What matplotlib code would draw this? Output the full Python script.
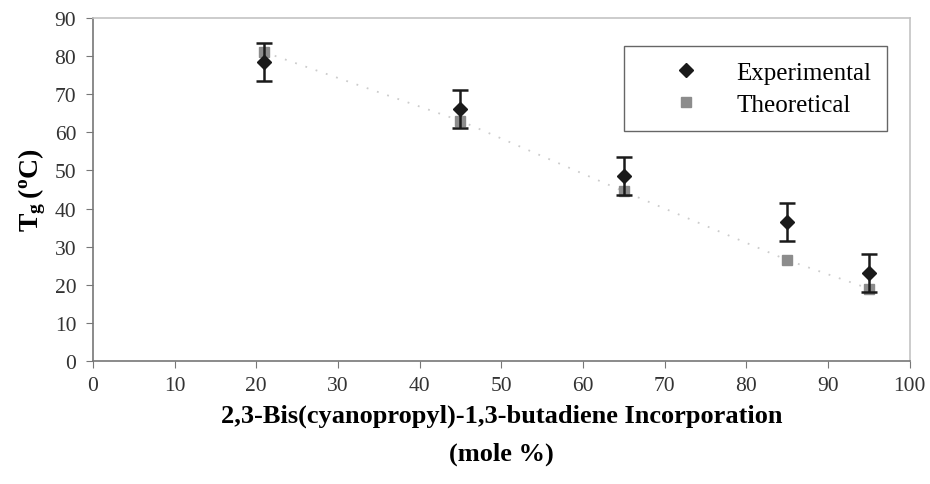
#----Bibliotecas----
import matplotlib
matplotlib.use("Agg")
import matplotlib.pyplot as plt
from matplotlib.lines import Line2D

plt.rcParams['font.family'] = ['Liberation Serif', 'DejaVu Serif']
plt.rcParams['mathtext.fontset'] = 'custom'
plt.rcParams['mathtext.rm'] = 'Liberation Serif'
plt.rcParams['mathtext.bf'] = 'Liberation Serif:bold'

#----Datos----
incorporacion = [21, 45, 65, 85, 95]          # mole %
tg_experimental = [78.5, 66, 48.5, 36.5, 23]
error_exp = [5, 5, 5, 5, 5]
tg_teorico = [81, 63, 44.5, 26.5, 19]

xticks = list(range(0, 101, 10))
yticks = list(range(0, 91, 10))

#----Graficar----
fig = plt.figure(figsize=(9.3, 4.85), dpi=100)
ax = fig.add_axes([0.1, 0.2536, 0.878, 0.7074])

ax.plot(incorporacion, tg_teorico, linestyle=(0, (1, 5)), color='#cccccc',
        linewidth=1.3, zorder=1)
ax.plot(incorporacion, tg_teorico, 's', color='#8c8c8c', markersize=7,
        linestyle='none', zorder=2)
ax.errorbar(incorporacion, tg_experimental, yerr=error_exp, fmt='D',
            color='#1a1a1a', ecolor='#1a1a1a', markersize=7, elinewidth=1.8,
            capsize=5.5, capthick=1.8, zorder=3)

ax.set_xlim(0, 100)
ax.set_ylim(0, 90)
ax.set_xticks(xticks)
ax.set_yticks(yticks)
ax.tick_params(direction='out', length=5, color='#777777', labelsize=15.5,
               labelcolor='#333333')
ax.tick_params(axis='y', pad=7)
ax.tick_params(axis='x', pad=6)

for lado in ['left', 'bottom']:
    ax.spines[lado].set_color('#777777')
    ax.spines[lado].set_linewidth(1.2)
for lado in ['top', 'right']:
    ax.spines[lado].set_color('#c4c4c4')
    ax.spines[lado].set_linewidth(1.2)

ax.set_xlabel('2,3-Bis(cyanopropyl)-1,3-butadiene Incorporation\n(mole %)',
              fontsize=19, fontweight='bold', linespacing=1.8, labelpad=6)
ax.set_ylabel(r'$\mathbf{T_g\,(^oC)}$', fontsize=20, labelpad=5)

#----Leyenda----
h_exp = Line2D([], [], marker='D', color='#1a1a1a', markersize=7, linestyle='none')
h_teo = Line2D([], [], marker='s', color='#8c8c8c', markersize=7, linestyle='none')
leg = ax.legend([h_exp, h_teo], ['Experimental', 'Theoretical'],
                loc='upper right', bbox_to_anchor=(0.972, 0.918), fontsize=18,
                fancybox=False, edgecolor='#666666', framealpha=1,
                handlelength=3.76, handletextpad=0.16, borderpad=0.6,
                labelspacing=0.38, borderaxespad=0)
leg.get_frame().set_linewidth(1.0)

fig.savefig('out.png', dpi=100)
